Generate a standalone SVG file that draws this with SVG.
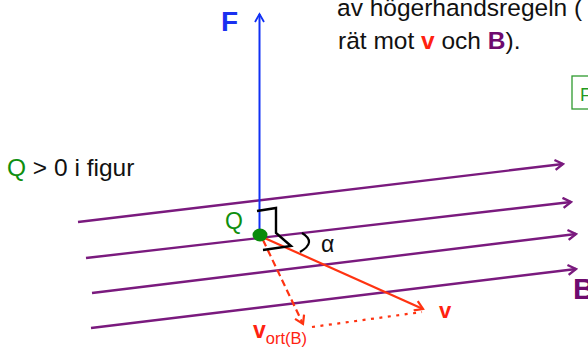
<svg xmlns="http://www.w3.org/2000/svg" width="588" height="348" viewBox="0 0 588 348">
<style>
text{font-family:"Liberation Sans",Arial,sans-serif}
.txt{font-size:24.5px;fill:#111}
.bl{stroke:#7a1a7e;stroke-width:2.4;fill:none}
.rd{stroke:#ff3311;stroke-width:2.2;fill:none}
.red{fill:#ff2211;font-weight:bold}
.pur{fill:#6e0a6e;font-weight:bold}
</style>
<defs>
<marker id="ap" viewBox="0 0 12 12" refX="10" refY="6" markerWidth="12" markerHeight="12" markerUnits="userSpaceOnUse" orient="auto">
<path d="M2,1 L10,6 L2,11" fill="none" stroke="#7a1a7e" stroke-width="2.4"/>
</marker>
<marker id="ar" viewBox="0 0 12 12" refX="10" refY="6" markerWidth="12" markerHeight="12" markerUnits="userSpaceOnUse" orient="auto">
<path d="M2,1 L10,6 L2,11" fill="none" stroke="#ff3311" stroke-width="2.2"/>
</marker>
<marker id="ab" viewBox="0 0 12 12" refX="10" refY="6" markerWidth="12" markerHeight="12" markerUnits="userSpaceOnUse" orient="auto">
<path d="M2,1.5 L10,6 L2,10.5" fill="none" stroke="#1030f5" stroke-width="1.8"/>
</marker>
</defs>
<rect width="588" height="348" fill="#fff"/>
<g id="caption">
<text class="txt" x="337" y="16">av högerhandsregeln (</text>
<text class="txt" x="338" y="49">rät mot <tspan class="red" fill="#ff0000">v</tspan> och <tspan class="pur">B</tspan>).</text>
</g>
<g id="fbox">
<rect x="572" y="76" width="30" height="33" fill="#fff" stroke="#2e9a2e" stroke-width="1.3"/>
<text x="580" y="101" font-size="18" fill="#229a22">F</text>
</g>
<g id="condition">
<text x="7" y="176" font-size="24.5" fill="#111"><tspan fill="#0f8f0f">Q</tspan> &gt; 0 i figur</text>
</g>
<g id="connectors">
<line class="bl" x1="78" y1="222" x2="563" y2="164" marker-end="url(#ap)"/>
<line class="bl" x1="86" y1="258" x2="571" y2="202" marker-end="url(#ap)"/>
<line class="bl" x1="92" y1="293" x2="576" y2="234" marker-end="url(#ap)"/>
<line class="bl" x1="91" y1="328" x2="576" y2="269" marker-end="url(#ap)"/>
<line x1="259.5" y1="234" x2="259.5" y2="14" stroke="#1030f5" stroke-width="2" marker-end="url(#ab)"/>
<line class="rd" x1="260" y1="236" x2="423" y2="309" marker-end="url(#ar)"/>
<line class="rd" x1="263" y1="240" x2="303" y2="324" stroke-dasharray="7 4" marker-end="url(#ar)"/>
<line class="rd" x1="312" y1="327" x2="422" y2="312" stroke-width="3" stroke-dasharray="3 5.5"/>
<polyline points="257,211 276,208 276,233 291,246 263,250" fill="none" stroke="#000" stroke-width="2.4"/>
<path d="M302,233 Q317,242 300,252" fill="none" stroke="#000" stroke-width="2.2"/>
</g>
<g id="charge">
<ellipse cx="260" cy="235" rx="7.5" ry="6.5" fill="#0a8a0a"/>
<text x="225" y="229" font-size="23" fill="#0f8f0f">Q</text>
</g>
<g id="labels">
<text x="221" y="31" font-size="28" font-weight="bold" fill="#1a30f0">F</text>
<text x="321" y="252" font-size="23" fill="#111">α</text>
<text x="439" y="318" font-size="22" class="red">v</text>
<text x="253" y="338" font-size="23" class="red">v<tspan font-size="16.5" font-weight="normal" dy="6">ort(B)</tspan></text>
<text x="573" y="299" font-size="30" class="pur">B</text>
</g>
</svg>
